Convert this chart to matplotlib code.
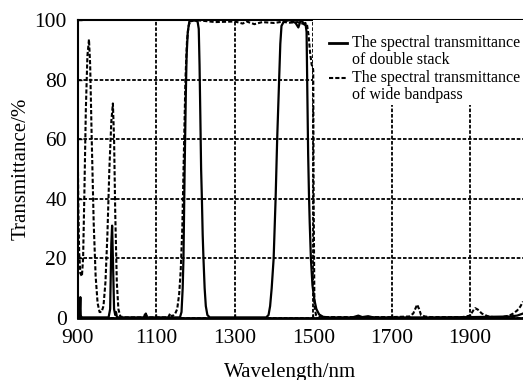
import matplotlib
matplotlib.use("Agg")
import matplotlib.pyplot as plt
from matplotlib.lines import Line2D
from matplotlib.patches import Rectangle

plt.rcParams['font.family'] = ['Liberation Serif', 'DejaVu Serif']

# Wide bandpass (dashed) curve
wide_wl = [900, 901, 903, 906, 910, 913, 916, 920, 924, 928, 931, 935, 940, 945, 950, 955, 960,
           965, 970, 975, 980, 985, 989, 992, 995, 999, 1003, 1008, 1020, 1068, 1072, 1075, 1080,
           1130, 1135, 1140, 1148, 1153, 1158, 1162, 1166, 1170, 1174, 1178, 1182, 1186, 1200,
           1250, 1300, 1320, 1330, 1350, 1370, 1400, 1420, 1440, 1460, 1475, 1484, 1488, 1492,
           1496, 1499, 1500, 1501, 1503, 1507, 1515, 1530, 1600, 1700, 1745, 1755, 1760, 1765,
           1770, 1775, 1785, 1800, 1880, 1900, 1908, 1913, 1920, 1930, 1945, 1960, 1980, 2000,
           2010, 2020, 2028, 2035]
wide_t = [49, 36, 22, 15, 14, 20, 40, 70, 88, 93.5, 85, 60, 32, 14, 5, 2, 2,
          4, 12, 28, 50, 66, 72, 60, 35, 12, 3, 0.5, 0.2, 0.2, 1.8, 0.5, 0.2,
          0.2, 1.5, 0.5, 1.5, 3, 8, 16, 30, 55, 80, 93, 98, 99.5, 100,
          99.3, 99.5, 98.8, 99.5, 98.6, 99.3, 99, 99.4, 99.1, 99.3, 98.7, 98.5, 95, 89,
          85, 84, 83, 40, 4, 1, 0.5, 0.3, 0.3, 0.3, 0.5, 1.5, 3, 4.5,
          3, 1, 0.5, 0.3, 0.3, 0.8, 2.5, 3.3, 2.8, 1.5, 0.6, 0.3, 0.3, 0.8,
          1.5, 2.5, 3.8, 5.5]

# Double stack (solid) curve
double_wl = [900, 904, 906, 907, 908, 910, 978, 982, 985, 987, 989, 992, 995, 997, 999,
             1002, 1070, 1073, 1076, 1160, 1164, 1167, 1169, 1172, 1175, 1177, 1180, 1184,
             1195, 1205, 1208, 1210, 1212, 1214, 1216, 1218, 1220, 1223, 1226, 1230, 1236,
             1380, 1386, 1390, 1394, 1399, 1404, 1408, 1413, 1416, 1419, 1425, 1440, 1455,
             1462, 1467, 1472, 1477, 1480, 1483, 1485, 1487, 1489, 1491, 1494, 1498, 1503,
             1508, 1515, 1525, 1540, 1600, 1615, 1625, 1640, 1650, 1660, 1700, 1800, 1900,
             2000, 2020, 2035]
double_t = [1.5, 0.5, 7, 1, 0.3, 0.2, 0.2, 3, 25, 31, 20, 3, 1, 2, 0.5,
            0.2, 0.2, 1.5, 0.2, 0.2, 2, 10, 20, 50, 75, 88, 96, 99.5,
            100, 99.5, 97, 85, 68, 50, 40, 28, 20, 10, 4, 1, 0.2,
            0.2, 1, 4, 10, 20, 40, 60, 80, 92, 98, 99.5, 100, 99,
            97.5, 99.5, 99.5, 98.5, 99, 96, 75, 55, 42, 32, 20, 11, 6,
            3, 1.2, 0.4, 0.2, 0.2, 0.8, 0.3, 0.6, 0.3, 0.2, 0.2, 0.2, 0.3,
            0.5, 0.8, 1.5]

xticks = [900, 1100, 1300, 1500, 1700, 1900]
yticks = [0, 20, 40, 60, 80, 100]

fig = plt.figure(figsize=(5.23, 3.80), dpi=100)
W, H = 523, 380
x0, x1, y0, y1 = 78, 523, 20, 318
ax = fig.add_axes([x0 / W, 1 - y1 / H, (x1 - x0) / W, (y1 - y0) / H])

dash = (0, (2.0, 1.0))
ax.plot(wide_wl, wide_t, color='black', lw=1.5, linestyle=dash, zorder=4)
ax.plot(double_wl, double_t, color='black', lw=1.6, linestyle='-', zorder=5)

ax.set_xlim(900, 2035)
ax.set_ylim(0, 100)
ax.set_xticks(xticks)
ax.set_yticks(yticks)
ax.grid(True, color='black', linestyle=dash, lw=1.3)
ax.set_axisbelow(True)
ax.tick_params(direction='in', length=3, width=1, labelsize=15.5, pad=8)
for s in ['left', 'top', 'bottom']:
    ax.spines[s].set_linewidth(1.5)
ax.spines['bottom'].set_linewidth(2)
ax.spines['right'].set_visible(False)

ax.set_xlabel('Wavelength/nm', fontsize=15)
ax.set_ylabel('Transmittance/%', fontsize=15)
ax.xaxis.set_label_coords((290 - x0) / (x1 - x0), -(372 - y1) / (y1 - y0), transform=ax.transAxes)
ax.yaxis.set_label_coords(-(x0 - 21) / (x1 - x0), 0.5, transform=ax.transAxes)
ax.xaxis.label.set_verticalalignment('center')
ax.yaxis.label.set_verticalalignment('center')

# manual legend
def fx(px):
    return (px - x0) / (x1 - x0)

def fy(py):
    return (y1 - py) / (y1 - y0)

ax.add_patch(Rectangle((fx(313), fy(105)), 1.0 - fx(313), 1.0 - fy(105), transform=ax.transAxes,
                       facecolor='white', edgecolor='none', zorder=3))
ax.add_line(Line2D([fx(329), fx(347)], [fy(43), fy(43)], transform=ax.transAxes,
                   color='black', lw=2, zorder=6))
ax.add_line(Line2D([fx(329), fx(347)], [fy(78), fy(78)], transform=ax.transAxes,
                   color='black', lw=1.5, linestyle=dash, zorder=6))
for txt, py in [('The spectral transmittance', 43), ('of double stack', 60),
                ('The spectral transmittance', 78), ('of wide bandpass', 95)]:
    ax.text(fx(352), fy(py), txt, transform=ax.transAxes, fontsize=11.5,
            va='center', ha='left', zorder=6)

fig.savefig('out.png', dpi=100)
